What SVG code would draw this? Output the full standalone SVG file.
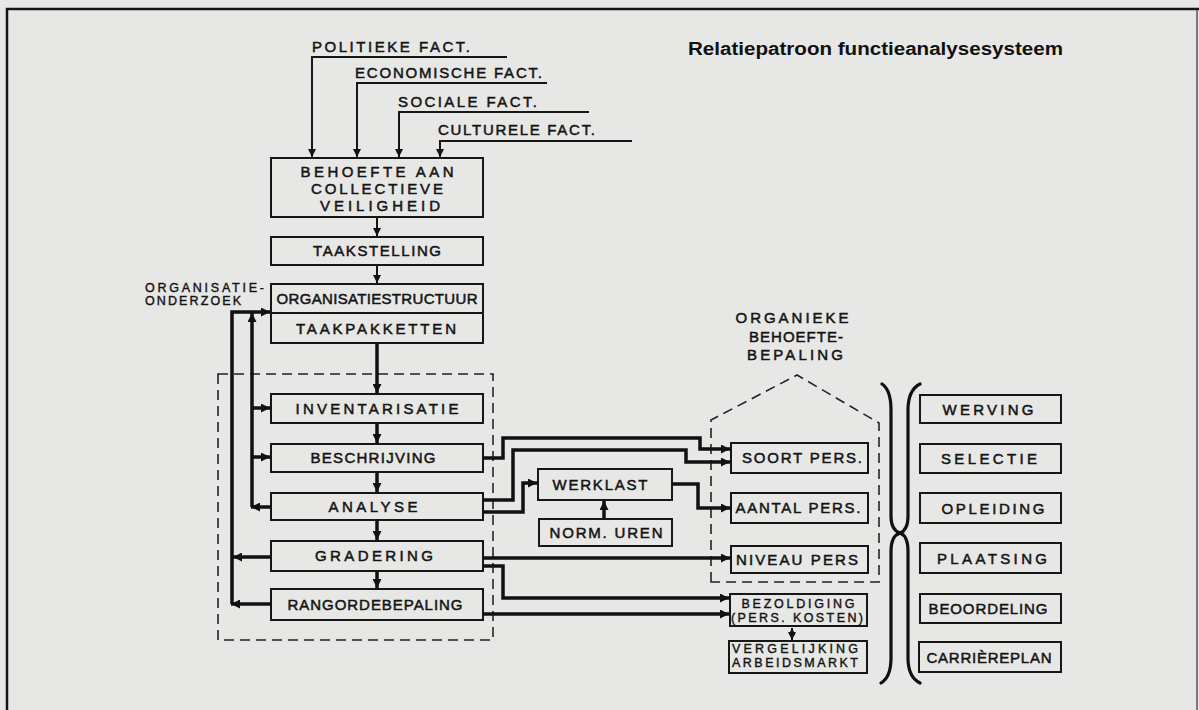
<svg xmlns="http://www.w3.org/2000/svg" width="1199" height="710" viewBox="0 0 1199 710">
<style>
.bg{fill:#e7e7e5}
.box{fill:none;stroke:#161616;stroke-width:2}
.t{font-family:"Liberation Sans","DejaVu Sans",sans-serif;font-size:15px;fill:#141414;text-anchor:middle;stroke:#141414;stroke-width:0.5}
.ts{font-size:12.5px;stroke-width:0.4}
.st{text-anchor:start}
.title{font-family:"Liberation Sans",Arial,sans-serif;font-size:18px;font-weight:bold;fill:#111}
.thin{fill:none;stroke:#161616;stroke-width:2}
.thick{fill:none;stroke:#111;stroke-width:3.5}
.dash{fill:none;stroke:#222;stroke-width:1.6;stroke-dasharray:10 6}
.frame{fill:none;stroke:#151515;stroke-width:2.5}
.brace{fill:none;stroke:#111;stroke-width:3.2;stroke-linecap:round}
</style>
<defs>
<marker id="a" viewBox="0 0 10 10" refX="10" refY="5" markerUnits="userSpaceOnUse" markerWidth="10" markerHeight="9" orient="auto"><path d="M0,0 L10,5 L0,10 z" fill="#111"/></marker>
<marker id="as" viewBox="0 0 10 10" refX="10" refY="5" markerUnits="userSpaceOnUse" markerWidth="8" markerHeight="8" orient="auto"><path d="M0,0 L10,5 L0,10 z" fill="#111"/></marker>
<marker id="ab" viewBox="0 0 10 10" refX="0" refY="5" markerUnits="userSpaceOnUse" markerWidth="7" markerHeight="7" orient="auto"><path d="M10,0 L0,5 L10,10 z" fill="#111"/></marker>
</defs>
<rect class="bg" x="0" y="0" width="1199" height="710"/>
<g id="frame">
<path class="frame" d="M7,710 V9 H1199"/>
<path d="M1197,9 V710" fill="none" stroke="#333" stroke-width="1.2"/>
</g>
<text class="title" x="688" y="55" textLength="375" lengthAdjust="spacingAndGlyphs">Relatiepatroon functieanalysesysteem</text>
<g id="factors">
<text class="t st" x="312" y="52" textLength="158" lengthAdjust="spacing">POLITIEKE FACT.</text>
<text class="t st" x="355" y="78" textLength="187" lengthAdjust="spacing">ECONOMISCHE FACT.</text>
<text class="t st" x="398" y="107" textLength="139" lengthAdjust="spacing">SOCIALE FACT.</text>
<text class="t st" x="438" y="135" textLength="157" lengthAdjust="spacing">CULTURELE FACT.</text>
</g>
<g id="behoefte"><rect class="box" x="271" y="158" width="212" height="59"/>
<text class="t" x="377" y="177" textLength="153" lengthAdjust="spacing">BEHOEFTE AAN</text>
<text class="t" x="377" y="194" textLength="132" lengthAdjust="spacing">COLLECTIEVE</text>
<text class="t" x="380" y="211" textLength="120" lengthAdjust="spacing">VEILIGHEID</text></g>
<g id="taakstelling"><rect class="box" x="271" y="237" width="212" height="28"/>
<text class="t" x="377" y="256" textLength="128" lengthAdjust="spacing">TAAKSTELLING</text></g>
<g id="organisatiestructuur"><rect class="box" x="271" y="284" width="212" height="29"/>
<text class="t" x="377" y="304" textLength="201" lengthAdjust="spacing">ORGANISATIESTRUCTUUR</text></g>
<g id="taakpakketten"><rect class="box" x="271" y="313" width="212" height="30"/>
<text class="t" x="376" y="334" textLength="160" lengthAdjust="spacing">TAAKPAKKETTEN</text></g>
<g id="organisatieonderzoek">
<text class="t ts st" x="145" y="292" textLength="119" lengthAdjust="spacing">ORGANISATIE-</text>
<text class="t ts st" x="145" y="305" textLength="96" lengthAdjust="spacing">ONDERZOEK</text></g>
<g id="inventarisatie"><rect class="box" x="271" y="394" width="212" height="29"/>
<text class="t" x="377" y="414" textLength="163" lengthAdjust="spacing">INVENTARISATIE</text></g>
<g id="beschrijving"><rect class="box" x="271" y="444" width="212" height="28"/>
<text class="t" x="373" y="463" textLength="125" lengthAdjust="spacing">BESCHRIJVING</text></g>
<g id="analyse"><rect class="box" x="271" y="493" width="212" height="27"/>
<text class="t" x="373" y="512" textLength="89" lengthAdjust="spacing">ANALYSE</text></g>
<g id="gradering"><rect class="box" x="271" y="541" width="212" height="30"/>
<text class="t" x="374" y="561" textLength="118" lengthAdjust="spacing">GRADERING</text></g>
<g id="rangordebepaling"><rect class="box" x="271" y="589" width="212" height="31"/>
<text class="t" x="375" y="610" textLength="175" lengthAdjust="spacing">RANGORDEBEPALING</text></g>
<g id="functieanalyse-grens"><rect class="dash" x="218" y="374" width="275" height="266"/></g>
<g id="werklast"><rect class="box" x="538" y="469" width="134" height="31"/>
<text class="t" x="600" y="490" textLength="95" lengthAdjust="spacing">WERKLAST</text></g>
<g id="normuren"><rect class="box" x="539" y="519" width="133" height="27"/>
<text class="t" x="606" y="538" textLength="113" lengthAdjust="spacing">NORM. UREN</text></g>
<g id="organieke">
<text class="t" x="792" y="323" textLength="113" lengthAdjust="spacing">ORGANIEKE</text>
<text class="t" x="796" y="342" textLength="94" lengthAdjust="spacing">BEHOEFTE-</text>
<text class="t" x="795" y="360" textLength="96" lengthAdjust="spacing">BEPALING</text>
<path class="dash" d="M711,582 V420 L797,375 L879,423 V582 Z"/></g>
<g id="soortpers"><rect class="box" x="731" y="443" width="137" height="30"/>
<text class="t" x="802" y="463" textLength="120" lengthAdjust="spacing">SOORT PERS.</text></g>
<g id="aantalpers"><rect class="box" x="731" y="493" width="137" height="30"/>
<text class="t" x="798" y="513" textLength="125" lengthAdjust="spacing">AANTAL PERS.</text></g>
<g id="niveaupers"><rect class="box" x="731" y="546" width="137" height="27"/>
<text class="t" x="797" y="565" textLength="122" lengthAdjust="spacing">NIVEAU PERS</text></g>
<g id="bezoldiging"><rect class="box" x="730" y="594" width="137" height="32"/>
<text class="t ts" x="798" y="608" textLength="113" lengthAdjust="spacing">BEZOLDIGING</text>
<text class="t ts" x="797" y="622" textLength="132" lengthAdjust="spacing">(PERS. KOSTEN)</text></g>
<g id="vergelijking"><rect class="box" x="729" y="641" width="138" height="32"/>
<text class="t ts" x="795" y="653" textLength="126" lengthAdjust="spacing">VERGELIJKING</text>
<text class="t ts" x="795" y="667" textLength="126" lengthAdjust="spacing">ARBEIDSMARKT</text></g>
<g id="braces">
<path class="brace" d="M882,384 Q891,390 891,410 V516 Q891,530 900,533 Q891,536 891,551 V658 Q891,677 881,683"/>
<path class="brace" d="M920,384 Q908,390 908,410 V516 Q908,530 900,533 Q908,536 908,551 V658 Q908,677 920,683"/>
</g>
<g id="werving"><rect class="box" x="920" y="395" width="141" height="28"/>
<text class="t" x="988" y="415" textLength="91" lengthAdjust="spacing">WERVING</text></g>
<g id="selectie"><rect class="box" x="920" y="444" width="141" height="29"/>
<text class="t" x="989" y="464" textLength="96" lengthAdjust="spacing">SELECTIE</text></g>
<g id="opleiding"><rect class="box" x="920" y="493" width="141" height="30"/>
<text class="t" x="993" y="514" textLength="103" lengthAdjust="spacing">OPLEIDING</text></g>
<g id="plaatsing"><rect class="box" x="920" y="543" width="141" height="30"/>
<text class="t" x="992" y="564" textLength="110" lengthAdjust="spacing">PLAATSING</text></g>
<g id="beoordeling"><rect class="box" x="920" y="594" width="141" height="29"/>
<text class="t" x="988" y="614" textLength="119" lengthAdjust="spacing">BEOORDELING</text></g>
<g id="carriereplan"><rect class="box" x="919" y="642" width="142" height="30"/>
<text class="t" x="989" y="663" textLength="125" lengthAdjust="spacing">CARRIÈREPLAN</text></g>
<g id="connectors">
<path class="thin" d="M507,57 H312 V157" marker-end="url(#as)"/>
<path class="thin" d="M547,83 H357 V157" marker-end="url(#as)"/>
<path class="thin" d="M589,112 H399 V157" marker-end="url(#as)"/>
<path class="thin" d="M632,141 H440 V157" marker-end="url(#as)"/>
<path class="thin" d="M377,217 V236" marker-end="url(#as)"/>
<path class="thin" d="M377,265 V283" marker-end="url(#as)"/>
<path class="thick" d="M377,343 V393" marker-end="url(#a)"/>
<path class="thick" d="M377,423 V443" marker-end="url(#a)"/>
<path class="thick" d="M377,472 V492" marker-end="url(#a)"/>
<path class="thick" d="M377,520 V540" marker-end="url(#a)"/>
<path class="thick" d="M377,571 V588" marker-end="url(#a)"/>
<path class="thick" d="M232,604 V312 H270" marker-end="url(#a)"/>
<path class="thick" d="M271,604 H231" marker-end="url(#a)"/>
<path class="thick" d="M271,557 H233" marker-end="url(#a)"/>
<path class="thick" d="M252,507 V313" marker-end="url(#a)"/>
<path class="thick" d="M271,507 H251" marker-end="url(#a)"/>
<path class="thick" d="M252,408 H270" marker-end="url(#a)"/>
<path class="thick" d="M252,457 H270" marker-end="url(#a)"/>
<path class="thick" d="M483,458 H503 V438 H700 V449 H730" marker-end="url(#a)"/>
<path class="thick" d="M483,500 H513 V450 H686 V462 H730" marker-end="url(#a)"/>
<path class="thick" d="M483,512 H523 V483 H537" marker-end="url(#a)"/>
<path class="thick" d="M672,484 H698 V508 H730" marker-end="url(#a)"/>
<path class="thick" d="M604,519 V501" marker-end="url(#a)"/>
<path class="thick" d="M483,558 H730" marker-end="url(#a)"/>
<path class="thick" d="M483,566 H503 V598 H729" marker-end="url(#a)"/>
<path class="thick" d="M483,614 H729" marker-end="url(#a)"/>
<path class="thin" d="M792,628 V640" marker-start="url(#ab)" marker-end="url(#as)"/>
</g>
</svg>
